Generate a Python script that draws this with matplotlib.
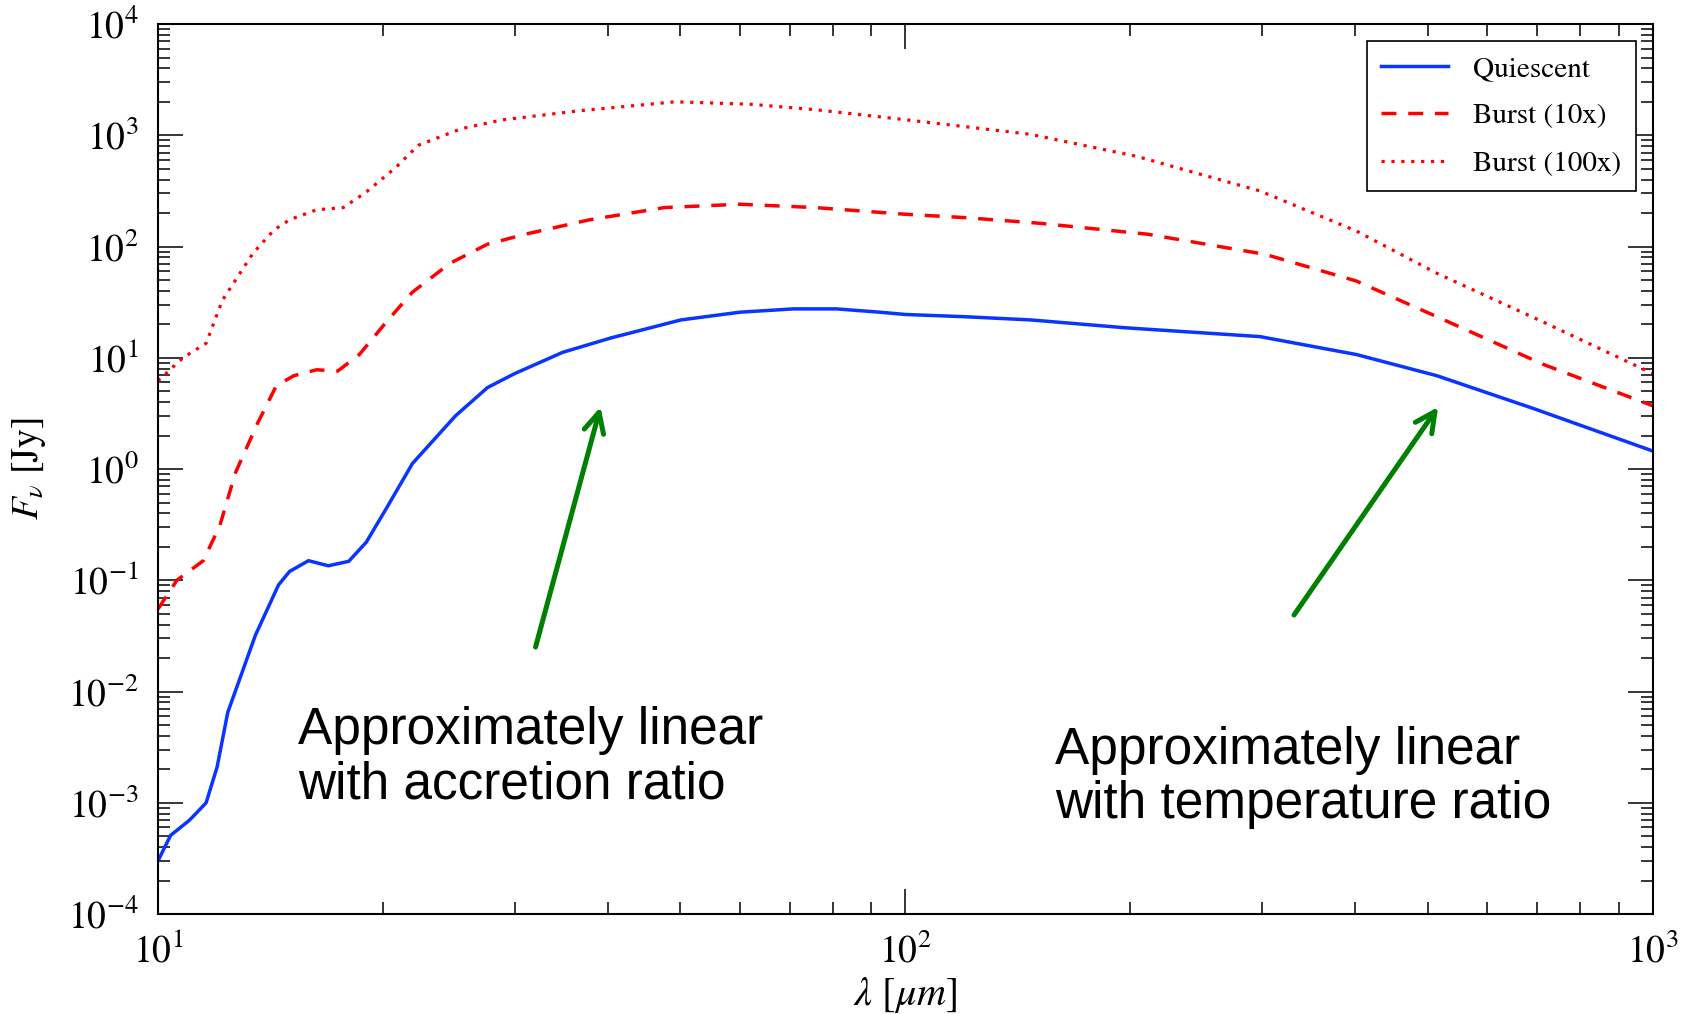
import numpy as np
import matplotlib
matplotlib.use("Agg")
from matplotlib import pyplot as plt

plt.rcParams['font.family'] = ['STIXGeneral', 'DejaVu Serif']
plt.rcParams['mathtext.fontset'] = 'stix'

# wavelength [um] and flux [Jy]
lam_quiet = [10, 10.4, 11.0, 11.2, 11.6, 12.0, 12.4, 13.5, 14.5, 15.0, 15.9, 16.9, 18.0, 19.0,
             20.2, 21.9, 25.0, 27.6, 30.0, 34.8, 40.4, 50.1, 60.1, 70.8, 80.9, 92.3, 100,
             120, 147, 197, 298, 401, 514, 692, 1000]
flux_quiet = [3.0e-4, 5.1e-4, 6.9e-4, 7.8e-4, 1.0e-3, 2.1e-3, 6.5e-3, 3.2e-2, 9.1e-2, 0.12,
              0.15, 0.135, 0.148, 0.22, 0.44, 1.12, 3.0, 5.4, 7.2, 11.2, 15.1, 21.9, 25.7,
              27.5, 27.5, 25.7, 24.5, 23.4, 21.9, 18.6, 15.5, 10.7, 6.9, 3.5, 1.45]

lam_b10 = [10, 10.6, 11.5, 12.1, 12.7, 13.6, 14.4, 15.2, 16.3, 17.4, 18.6, 20.2, 21.9, 24.6,
           27.6, 31.0, 37.8, 47.6, 60.1, 75.7, 100, 120, 151, 211, 303, 401, 514, 714, 1000]
flux_b10 = [0.055, 0.10, 0.15, 0.31, 0.93, 2.6, 5.6, 6.9, 7.8, 7.6, 10.7, 20.9, 38.9, 70.8,
            105, 129, 174, 224, 240, 224, 195, 182, 162, 129, 85, 49, 23.4, 8.7, 3.7]

lam_b100 = [10, 10.8, 11.6, 12.2, 13.4, 14.3, 15.0, 16.3, 17.7, 19.0, 20.8, 22.3, 25.5, 29.0,
            36.6, 49.2, 62.1, 75.7, 100, 147, 204, 298, 401, 514, 714, 1000]
flux_b100 = [6.2, 10.0, 13.5, 33, 87, 141, 174, 214, 224, 309, 513, 813, 1150, 1380, 1660,
             2000, 1900, 1700, 1380, 1020, 646, 316, 138, 57.5, 20.9, 7.2]

# arrows: (tail, head) in data units
arrow_accretion = ((32.0, 0.0251), (39.1, 3.61))
arrow_temperature = ((331, 0.0487), (516, 3.61))

fig = plt.figure(figsize=(16.82, 10.14), dpi=100)
ax = fig.add_axes([0.0939, 0.0986, 0.8888, 0.8777])

ax.plot(lam_quiet, flux_quiet, color='#0a35ff', lw=2.5, label='Quiescent')
ax.plot(lam_b10, flux_b10, color='#ff0000', lw=2.5, dashes=(4.3, 3.4), label='Burst (10x)')
ax.plot(lam_b100, flux_b100, color='#ff0000', lw=2.3, dashes=(1.0, 2.1), label='Burst (100x)')

ax.set_xscale('log')
ax.set_yscale('log')
ax.set_xlim(10, 1000)
ax.set_ylim(1e-4, 1e4)

for s in ax.spines.values():
    s.set_linewidth(1.5)
ax.tick_params(which='both', direction='in', top=True, right=True, labelsize=27, pad=14)
ax.tick_params(which='major', length=18, width=1.1)
ax.tick_params(which='minor', length=8.6, width=1.1)
ax.yaxis.set_major_locator(matplotlib.ticker.LogLocator(base=10, numticks=20))
ax.yaxis.set_minor_locator(matplotlib.ticker.LogLocator(base=10, subs=np.arange(2, 10), numticks=20))
ax.yaxis.set_minor_formatter(matplotlib.ticker.NullFormatter())
ax.xaxis.set_minor_formatter(matplotlib.ticker.NullFormatter())

ax.set_xlabel(r'$\lambda\ [\mu m]$', fontsize=29)
ax.set_ylabel(r'$F_\nu$ [Jy]', fontsize=27)
ax.xaxis.set_label_coords(0.5, -0.068)
ax.yaxis.set_label_coords(-0.0736, 0.5)

leg = ax.legend(loc='upper right', fontsize=21, fancybox=False, edgecolor='black',
                framealpha=1, handlelength=2.3, handletextpad=0.85, labelspacing=0.72,
                borderaxespad=0.58, borderpad=0.5)
leg.get_frame().set_linewidth(1.2)

for (tail, head) in [arrow_accretion, arrow_temperature]:
    ax.annotate('', xy=head, xytext=tail,
                arrowprops=dict(arrowstyle='->', color='#008000', lw=3.6,
                                mutation_scale=36, shrinkA=0, shrinkB=0))

ax.text(0.0936, 0.1303, 'Approximately linear\nwith accretion ratio', transform=ax.transAxes,
        fontsize=37, family=['Liberation Sans', 'DejaVu Sans'], va='baseline', ha='left',
        linespacing=1.12)
ax.text(0.600, 0.1079, 'Approximately linear\nwith temperature ratio', transform=ax.transAxes,
        fontsize=37, family=['Liberation Sans', 'DejaVu Sans'], va='baseline', ha='left',
        linespacing=1.12)

fig.savefig('out.png', dpi=100)
